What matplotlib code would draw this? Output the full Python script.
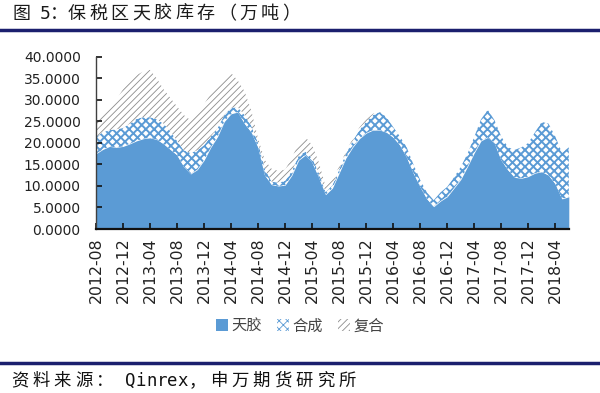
import matplotlib
matplotlib.use("Agg")
import matplotlib.pyplot as plt
from matplotlib.patches import Patch
from matplotlib.ticker import FormatStrFormatter
import numpy as np
import pandas as pd

plt.rcParams['font.family'] = ['DejaVu Sans', 'Noto Sans CJK SC']

months = pd.period_range('2012-08', periods=71, freq='M').strftime('%Y-%m').tolist()

tianjiao = [17.5, 18.5, 19.2, 19.0, 19.2, 19.8, 20.5, 21.0, 21.2, 20.8,
            19.8, 18.5, 17.2, 14.5, 12.8, 13.8, 16.0, 19.0, 21.5, 25.0,
            26.8, 27.2, 24.5, 22.5, 19.0, 12.5, 10.3, 10.0, 10.2, 12.5,
            16.0, 17.2, 15.5, 12.0, 8.0, 9.5, 13.0, 16.5, 19.0, 21.0,
            22.3, 23.0, 23.0, 22.5, 21.3, 19.5, 16.7, 13.0, 9.8, 7.0,
            5.2, 6.5, 7.5, 9.5, 11.5, 14.5, 17.7, 20.5, 21.3, 20.0,
            16.0, 13.7, 12.0, 11.8, 12.2, 13.0, 13.3, 12.5, 10.5, 7.0,
            7.5]

hecheng = [3.9, 4.0, 3.8, 4.2, 4.3, 4.7, 5.1, 5.0, 4.8, 4.7,
           4.7, 4.3, 3.3, 3.8, 4.9, 4.5, 3.5, 2.5, 2.0, 1.5,
           1.4, 1.1, 2.0, 1.5, 1.0, 1.5, 0.7, 0.8, 1.0, 1.0,
           1.0, 0.8, 1.0, 1.0, 0.6, 0.7, 0.8, 1.0, 1.5, 2.0,
           2.7, 3.5, 4.2, 3.5, 2.4, 2.0, 2.3, 2.0, 1.6, 1.5,
           1.5, 2.0, 2.3, 2.5, 2.9, 3.0, 3.7, 5.0, 6.4, 5.3,
           5.5, 5.3, 6.4, 7.2, 7.8, 9.5, 11.6, 12.0, 11.0, 10.7,
           11.5]

fuhe = [3.5, 4.0, 5.0, 6.8, 9.0, 10.0, 10.2, 10.6, 11.0, 9.5,
        8.0, 7.7, 8.0, 8.2, 7.6, 8.7, 9.5, 10.0, 10.0, 8.5,
        8.1, 6.2, 5.5, 3.5, 1.0, 2.0, 3.0, 2.7, 2.6, 3.0,
        3.0, 3.4, 3.0, 2.5, 1.2, 1.3, 0.7, 0.5, 0.5, 0.6,
        0.5, 0.3, 0.1, 0.0, 0.0, 0.0, 0.0, 0.0, 0.0, 0.0,
        0.0, 0.0, 0.0, 0.0, 0.0, 0.0, 0.0, 0.0, 0.0, 0.0,
        0.0, 0.0, 0.0, 0.0, 0.0, 0.0, 0.0, 0.0, 0.0, 0.0,
        0.0]

series_names = ['天胶', '合成', '复合']
title = '图 5：保税区天胶库存（万吨）'
source = '资料来源：Qinrex，申万期货研究所'

blue = '#5B9BD5'
navy = '#1B1F6E'
W, H = 600, 393

x = np.arange(len(months))
s1 = np.array(tianjiao)
s2 = s1 + np.array(hecheng)
s3 = s2 + np.array(fuhe)

fig = plt.figure(figsize=(W / 100, H / 100), dpi=100)
ax = fig.add_axes([0.16, 0.4173, 0.788, 0.4377])

ax.fill_between(x, 0, s1, facecolor=blue, edgecolor=blue, linewidth=0)
plt.rcParams['hatch.linewidth'] = 1.4
hc_kw = dict(facecolor='white', edgecolor=blue, hatch='xxxx', linewidth=0)
ax.fill_between(x, s1, s2, **hc_kw)
plt.rcParams['hatch.linewidth'] = 0.6
fh_kw = dict(facecolor='white', edgecolor='#8C8C8C', hatch='/////', linewidth=0)
ax.fill_between(x, s2, s3, **fh_kw)

ax.set_xlim(0, 70)
ax.set_ylim(0, 40)
ax.set_yticks(np.arange(0, 40.1, 5))
ax.yaxis.set_major_formatter(FormatStrFormatter('%.4f'))
ax.set_xticks(x[::4])
ax.set_xticklabels(months[::4], rotation=90)

for side in ['top', 'right']:
    ax.spines[side].set_visible(False)
ax.spines['left'].set_color('#404040')
ax.spines['left'].set_linewidth(1.0)
ax.spines['bottom'].set_color('#111111')
ax.spines['bottom'].set_linewidth(1.6)
ax.tick_params(axis='both', direction='in', length=4, width=1.2, color='#111111',
               labelcolor='#222222')
ax.tick_params(axis='y', labelsize=10, pad=11)
ax.tick_params(axis='x', labelsize=11.3, pad=6)

plt.rcParams['hatch.linewidth'] = 1.4
h2 = Patch(**hc_kw)
plt.rcParams['hatch.linewidth'] = 0.6
h3 = Patch(**fh_kw)
handles = [Patch(facecolor=blue, edgecolor=blue, linewidth=0), h2, h3]
fig.legend(handles, series_names, loc='center', bbox_to_anchor=(0.5, 1 - 326 / H), ncol=3,
           frameon=False, handlelength=0.8, handleheight=0.8,
           handletextpad=0.2, columnspacing=1.0, labelcolor='#444444',
           prop={'family': ['Noto Sans CJK SC'], 'size': 11})


def spaced_text(x0, yc, s, adv, size, overrides=None, color='#111111'):
    """Draw text one glyph at a time with fixed advances (pixels)."""
    overrides = overrides or {}
    xp = x0
    for ch in s:
        if ch in overrides:
            a = overrides[ch]
        elif ord(ch) > 0x2E80:
            a = adv[0]
        elif ch == ' ':
            a = adv[2]
        else:
            a = adv[1]
        if ch != ' ':
            fam = ['DejaVu Sans Mono', 'Noto Sans CJK SC'] if ord(ch) < 0x2E80 else ['Noto Sans CJK SC']
            fig.text(xp / W, 1 - yc / H, ch, fontsize=size, family=fam,
                     ha='left', va='center', color=color)
        xp += a


spaced_text(12, 14, title, (21.5, 10.0, 6.0), 13, overrides={'：': 18.0}, color='#1a1a1a')
fig.add_artist(plt.Line2D([0, 1], [1 - 30 / H, 1 - 30 / H], color=navy, linewidth=2.5,
                          transform=fig.transFigure))
fig.add_artist(plt.Line2D([0, 1], [1 - 363 / H, 1 - 363 / H], color=navy, linewidth=2.5,
                          transform=fig.transFigure))
spaced_text(11, 381, source, (21.3, 10.5, 6.0), 12.5, overrides={'：': 29.0, '，': 22.0})

fig.savefig('out.png', dpi=100, facecolor='white')
